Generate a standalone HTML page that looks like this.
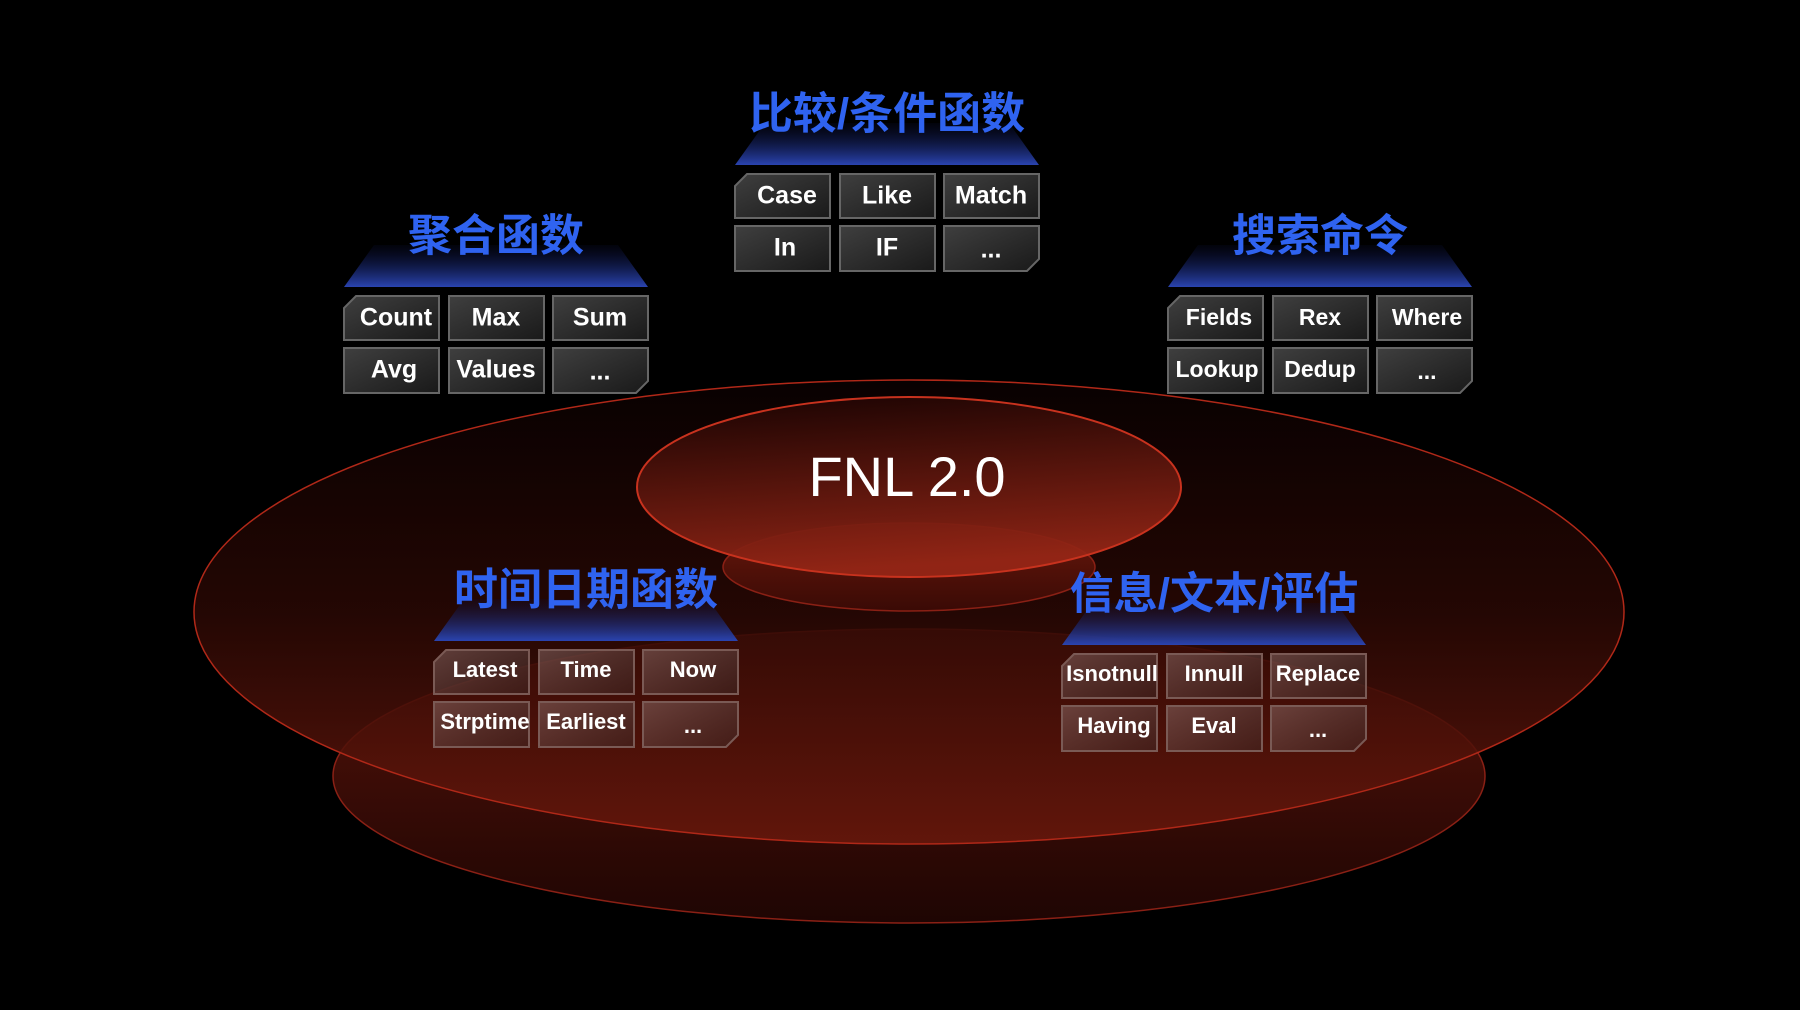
<!DOCTYPE html>
<html><head><meta charset="utf-8">
<style>
html,body{margin:0;padding:0;background:#000;}
svg{display:block}
text{font-family:"Liberation Sans","Noto Sans CJK SC",sans-serif;}
</style></head>
<body>
<svg width="1800" height="1010" viewBox="0 0 1800 1010" xmlns="http://www.w3.org/2000/svg">
<defs>
<linearGradient id="big" x1="0" y1="0" x2="0" y2="1">
<stop offset="0" stop-color="#0a0101"/>
<stop offset="0.5" stop-color="#2a0804"/>
<stop offset="1" stop-color="#6a180c"/>
</linearGradient>
<linearGradient id="low" x1="0" y1="0" x2="0" y2="1">
<stop offset="0" stop-color="#5a140a"/>
<stop offset="1" stop-color="#1e0503"/>
</linearGradient>
<linearGradient id="cen" x1="0" y1="0" x2="0.2" y2="1">
<stop offset="0" stop-color="#1a0302"/>
<stop offset="1" stop-color="#962616"/>
</linearGradient>
<linearGradient id="sm" x1="0" y1="0" x2="0" y2="1">
<stop offset="0" stop-color="#6a180c"/>
<stop offset="1" stop-color="#3a0a05"/>
</linearGradient>
<linearGradient id="trap" x1="0" y1="0" x2="0" y2="1">
<stop offset="0" stop-color="#0a0f3a" stop-opacity="0.2"/>
<stop offset="1" stop-color="#2a44b0"/>
</linearGradient>
<linearGradient id="btn" x1="0" y1="0" x2="1" y2="1">
<stop offset="0" stop-color="#4a4a4a" stop-opacity="0.85"/>
<stop offset="1" stop-color="#1e1e1e" stop-opacity="0.85"/>
</linearGradient>
<linearGradient id="btnr" x1="0" y1="0" x2="1" y2="1">
<stop offset="0" stop-color="#8a6a66" stop-opacity="0.55"/>
<stop offset="1" stop-color="#3a2a28" stop-opacity="0.45"/>
</linearGradient>
</defs>

<ellipse cx="909" cy="776" rx="576" ry="147" fill="url(#low)" stroke="#8a2015" stroke-width="1.5"/>
<ellipse cx="909" cy="612" rx="715" ry="232" fill="url(#big)" fill-opacity="0.85" stroke="#b02818" stroke-width="1.5"/>
<ellipse cx="909" cy="567" rx="186" ry="44" fill="url(#sm)" stroke="#8a2015" stroke-width="1.5"/>
<ellipse cx="909" cy="487" rx="272" ry="90" fill="url(#cen)" fill-opacity="0.92" stroke="#c8321e" stroke-width="2"/>
<text x="907" y="481" font-size="56" fill="#fff" text-anchor="middle" dominant-baseline="middle">FNL 2.0</text>

<g transform="translate(344,287)">
<polygon points="30,-42 274,-42 304,0 0,0" fill="url(#trap)"/>
<text x="152" y="-48" font-size="44" font-weight="bold" fill="#2f63f0" text-anchor="middle" dominant-baseline="middle">聚合函数</text>
<polygon points="12,9 95,9 95,53 0,53 0,21" fill="url(#btn)" stroke="#666" stroke-width="2"/>
<rect x="105" y="9" width="95" height="44" fill="url(#btn)" stroke="#666" stroke-width="2"/>
<rect x="209" y="9" width="95" height="44" fill="url(#btn)" stroke="#666" stroke-width="2"/>
<rect x="0" y="61" width="95" height="45" fill="url(#btn)" stroke="#666" stroke-width="2"/>
<rect x="105" y="61" width="95" height="45" fill="url(#btn)" stroke="#666" stroke-width="2"/>
<polygon points="209,61 304,61 304,94 292,106 209,106" fill="url(#btn)" stroke="#666" stroke-width="2"/>
<g font-size="25" font-weight="600" fill="#fff" text-anchor="middle" dominant-baseline="middle">
<text x="52" y="32">Count</text><text x="152" y="32">Max</text><text x="256" y="32">Sum</text>
<text x="50" y="84">Avg</text><text x="152" y="84">Values</text><text x="256" y="86">...</text>
</g></g>

<g transform="translate(735,165)">
<polygon points="30,-42 274,-42 304,0 0,0" fill="url(#trap)"/>
<text x="152" y="-48" font-size="44" font-weight="bold" fill="#2f63f0" text-anchor="middle" dominant-baseline="middle">比较/条件函数</text>
<polygon points="12,9 95,9 95,53 0,53 0,21" fill="url(#btn)" stroke="#666" stroke-width="2"/>
<rect x="105" y="9" width="95" height="44" fill="url(#btn)" stroke="#666" stroke-width="2"/>
<rect x="209" y="9" width="95" height="44" fill="url(#btn)" stroke="#666" stroke-width="2"/>
<rect x="0" y="61" width="95" height="45" fill="url(#btn)" stroke="#666" stroke-width="2"/>
<rect x="105" y="61" width="95" height="45" fill="url(#btn)" stroke="#666" stroke-width="2"/>
<polygon points="209,61 304,61 304,94 292,106 209,106" fill="url(#btn)" stroke="#666" stroke-width="2"/>
<g font-size="25" font-weight="600" fill="#fff" text-anchor="middle" dominant-baseline="middle">
<text x="52" y="32">Case</text><text x="152" y="32">Like</text><text x="256" y="32">Match</text>
<text x="50" y="84">In</text><text x="152" y="84">IF</text><text x="256" y="86">...</text>
</g></g>

<g transform="translate(1168,287)">
<polygon points="30,-42 274,-42 304,0 0,0" fill="url(#trap)"/>
<text x="152" y="-48" font-size="44" font-weight="bold" fill="#2f63f0" text-anchor="middle" dominant-baseline="middle">搜索命令</text>
<polygon points="12,9 95,9 95,53 0,53 0,21" fill="url(#btn)" stroke="#666" stroke-width="2"/>
<rect x="105" y="9" width="95" height="44" fill="url(#btn)" stroke="#666" stroke-width="2"/>
<rect x="209" y="9" width="95" height="44" fill="url(#btn)" stroke="#666" stroke-width="2"/>
<rect x="0" y="61" width="95" height="45" fill="url(#btn)" stroke="#666" stroke-width="2"/>
<rect x="105" y="61" width="95" height="45" fill="url(#btn)" stroke="#666" stroke-width="2"/>
<polygon points="209,61 304,61 304,94 292,106 209,106" fill="url(#btn)" stroke="#666" stroke-width="2"/>
<g font-size="23" font-weight="600" fill="#fff" text-anchor="middle" dominant-baseline="middle">
<text x="51" y="32">Fields</text><text x="152" y="32">Rex</text><text x="259" y="32">Where</text>
<text x="49" y="84">Lookup</text><text x="152" y="84">Dedup</text><text x="259" y="86">...</text>
</g></g>

<g transform="translate(434,641)">
<polygon points="30,-42 274,-42 304,0 0,0" fill="url(#trap)"/>
<text x="152" y="-48" font-size="44" font-weight="bold" fill="#2f63f0" text-anchor="middle" dominant-baseline="middle">时间日期函数</text>
<polygon points="12,9 95,9 95,53 0,53 0,21" fill="url(#btnr)" stroke="#7a5a55" stroke-width="2"/>
<rect x="105" y="9" width="95" height="44" fill="url(#btnr)" stroke="#7a5a55" stroke-width="2"/>
<rect x="209" y="9" width="95" height="44" fill="url(#btnr)" stroke="#7a5a55" stroke-width="2"/>
<rect x="0" y="61" width="95" height="45" fill="url(#btnr)" stroke="#7a5a55" stroke-width="2"/>
<rect x="105" y="61" width="95" height="45" fill="url(#btnr)" stroke="#7a5a55" stroke-width="2"/>
<polygon points="209,61 304,61 304,94 292,106 209,106" fill="url(#btnr)" stroke="#7a5a55" stroke-width="2"/>
<g font-size="22" font-weight="600" fill="#fff" text-anchor="middle" dominant-baseline="middle">
<text x="51" y="30">Latest</text><text x="152" y="30">Time</text><text x="259" y="30">Now</text>
<text x="51" y="82">Strptime</text><text x="152" y="82">Earliest</text><text x="259" y="86">...</text>
</g></g>

<g transform="translate(1062,645)">
<polygon points="30,-42 274,-42 304,0 0,0" fill="url(#trap)"/>
<text x="152" y="-48" font-size="44" font-weight="bold" fill="#2f63f0" text-anchor="middle" dominant-baseline="middle">信息/文本/评估</text>
<polygon points="12,9 95,9 95,53 0,53 0,21" fill="url(#btnr)" stroke="#7a5a55" stroke-width="2"/>
<rect x="105" y="9" width="95" height="44" fill="url(#btnr)" stroke="#7a5a55" stroke-width="2"/>
<rect x="209" y="9" width="95" height="44" fill="url(#btnr)" stroke="#7a5a55" stroke-width="2"/>
<rect x="0" y="61" width="95" height="45" fill="url(#btnr)" stroke="#7a5a55" stroke-width="2"/>
<rect x="105" y="61" width="95" height="45" fill="url(#btnr)" stroke="#7a5a55" stroke-width="2"/>
<polygon points="209,61 304,61 304,94 292,106 209,106" fill="url(#btnr)" stroke="#7a5a55" stroke-width="2"/>
<g font-size="22" font-weight="600" fill="#fff" text-anchor="middle" dominant-baseline="middle">
<text x="50" y="30">Isnotnull</text><text x="152" y="30">Innull</text><text x="256" y="30">Replace</text>
<text x="52" y="82">Having</text><text x="152" y="82">Eval</text><text x="256" y="86">...</text>
</g></g>
</svg>
</body></html>
